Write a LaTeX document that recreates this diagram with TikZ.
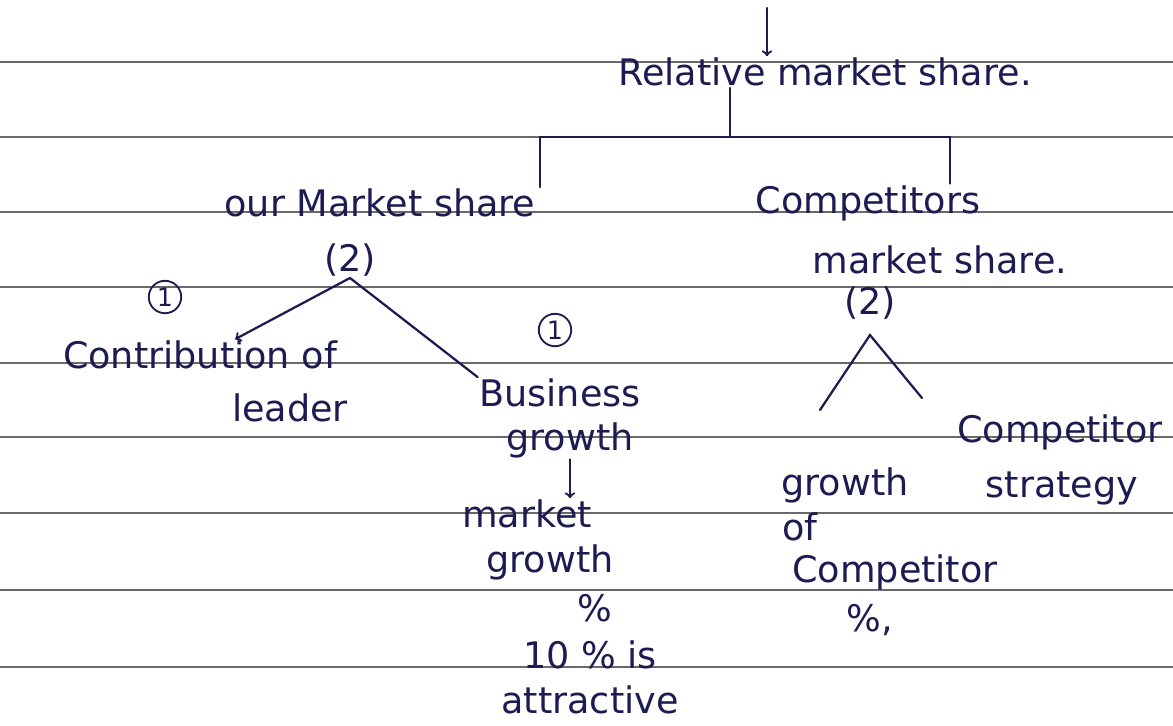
\documentclass[tikz,border=0pt]{standalone}
\usepackage{fontspec}
\usepackage{xcolor}
\usepackage{tikz}
\usetikzlibrary{positioning}
\newfontfamily\handfont{DejaVu Sans}

\begin{document}
\begin{tikzpicture}[x = 0.025cm, y = -0.025cm,
  hand/.style = {text = ink, font = \handfont\fontsize{26}{28}\selectfont, inner sep = 1pt},
  inkline/.style = {draw = ink, line width = 1.6pt, line cap = round},
  num/.style = {circle, draw = ink, line width = 1.3pt, text = ink,
    font = \handfont\fontsize{18}{18}\selectfont, inner sep = 2pt}]
  \definecolor{ink}{RGB}{28, 28, 82};
  \definecolor{rule}{RGB}{105, 105, 105};
  \useasboundingbox (0,0) rectangle (1173,725);
  \fill[white] (0,0) rectangle (1173,725);

  % ruled paper
  \foreach \y in {62,137,212,287,363,437,513,590,667}
    \draw[rule, line width = 1pt] (0,\y) -- (1173,\y);

  \node[hand] (rms) at (825,72) {Relative market share.};

  \node[hand] (oms) at (380,203) {our Market share};
  \node[hand] (oms2) at (350,260) {(2)};
  \node[num] (n1a) at (165,297) {1};
  \node[hand] (contrib) at (200,355) {Contribution of};
  \node[hand] (leader) at (290,408) {leader};
  \node[num] (n1b) at (555,330) {1};
  \node[hand] (busi) at (560,393) {Business};
  \node[hand] (bgrow) at (570,440) {growth};
  \node[hand] (mkt) at (527,514) {market};
  \node[hand] (mgrow) at (550,562) {growth};
  \node[hand] (pct) at (595,608) {\%};
  \node[hand] (ten) at (590,655) {10 \% is};
  \node[hand] (attr) at (590,700) {attractive};

  \node[hand] (comp) at (868,203) {Competitors};
  \node[hand] (cms) at (940,260) {market share.};
  \node[hand] (ctwo) at (870,303) {(2)};
  \node[hand] (cstrat) at (1060,432) {Competitor};
  \node[hand] (cstrat2) at (1062,488) {strategy};
  \node[hand] (cgrow) at (845,485) {growth};
  \node[hand] (cof) at (800,527) {of};
  \node[hand] (ccomp) at (895,572) {Competitor};
  \node[hand] (cpct) at (870,620) {\%,};

  \coordinate (topin) at (767,8);
  \coordinate (bus) at (730,137);
  \coordinate (busL) at (540,137);
  \coordinate (busR) at (950,137);
  \coordinate (legL) at (820,410);
  \coordinate (legR) at (922,398);

  \draw[inkline, ->] (topin) -- (topin |- rms.north);
  \draw[inkline] (rms.south -| bus) -- (bus);
  \draw[inkline] (busL |- oms.north) -- (busL) -- (busR) -- (busR |- comp.north);

  \draw[inkline, ->] (oms2.south) -- ([xshift = 25pt]contrib.north);
  \draw[inkline] (oms2.south) -- (busi.north west);
  \draw[inkline, ->] (bgrow.south) -- (bgrow.south |- mkt.north);

  \draw[inkline] (legL) -- ([yshift = -10pt]ctwo.south) -- (legR);
\end{tikzpicture}
\end{document}
